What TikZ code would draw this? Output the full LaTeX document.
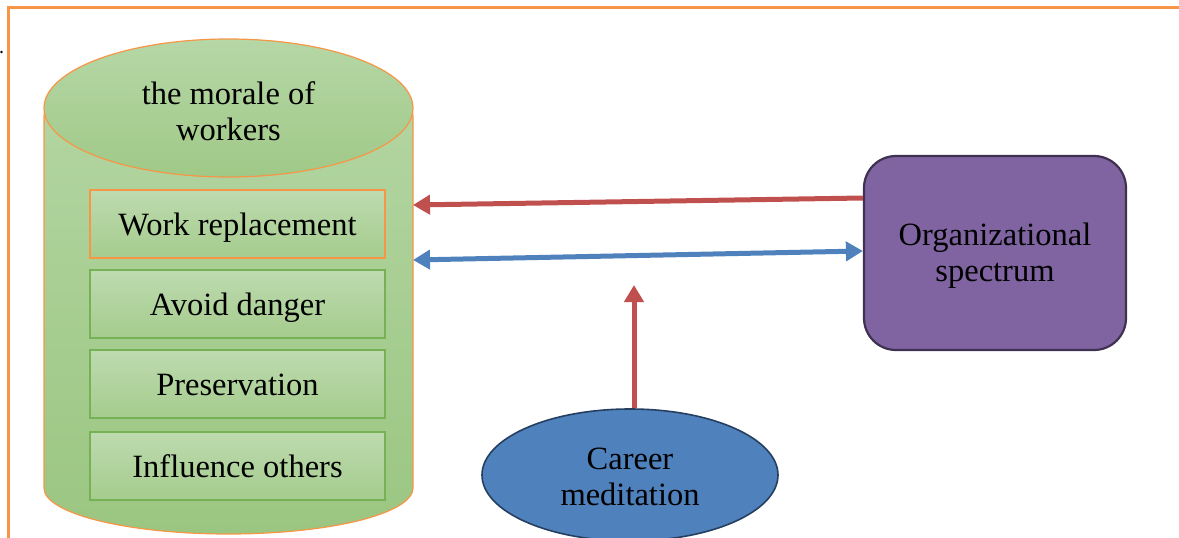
\documentclass[tikz,border=0pt]{standalone}
\usepackage{fontspec}
\setmainfont{Liberation Serif}
\usetikzlibrary{arrows.meta,shapes.geometric,calc}
\definecolor{frameorange}{HTML}{F79646}
\definecolor{greenlight}{HTML}{B6D7A6}
\definecolor{greendark}{HTML}{9BC681}
\definecolor{boxgreen}{HTML}{77B155}
\definecolor{arrowred}{HTML}{C0504D}
\definecolor{arrowblue}{HTML}{4F81BD}
\definecolor{purplefill}{HTML}{8064A2}
\definecolor{purpleline}{HTML}{3F3151}
\definecolor{bluefill}{HTML}{4F81BD}
\definecolor{blueline}{HTML}{243F60}
\tikzset{
  txt/.style={font=\fontsize{32.5}{36}\selectfont, text=black, align=center},
  cylbody/.style={draw=frameorange, line width=1.2pt, top color=greenlight, bottom color=greendark},
  innerbox/.style={txt, draw=boxgreen, line width=1.2pt, top color=greenlight!90!white, bottom color=greendark!90!white,
    minimum width=295pt, minimum height=68pt, inner sep=0pt, text depth=0pt, text height=22pt},
  bigarrow/.style={line width=5pt, -{Triangle[length=17pt,width=19pt]}},
}
\begin{document}
\begin{tikzpicture}[x=1pt,y=-1pt]
\useasboundingbox (0,0) rectangle (1179,538);
% frame
\draw[frameorange, line width=2.6pt] (8.5,538) -- (8.5,7.5) -- (1179,7.5);
\fill[black] (1.5,52) circle (1.3pt);
% cylinder body
\path[cylbody] (44,117) -- (44,488)
  arc[start angle=180, end angle=360, x radius=184.5pt, y radius=46pt]
  -- (413,117)
  arc[start angle=0, end angle=180, x radius=184.5pt, y radius=69pt] -- cycle;
% top ellipse
\node[ellipse, draw=frameorange, line width=1.2pt, top color=greenlight, bottom color=greendark!95!white,
  minimum width=369pt, minimum height=138pt, inner sep=0pt, txt] (morale) at (228.5,108) {};
\node[txt] (moraletext) at (228.5,111) {the morale of\\workers};
% inner boxes
\node[innerbox, draw=frameorange] (work) at (237.5,224) {Work replacement};
\node[innerbox] (avoid) at (237.5,304) {Avoid danger};
\node[innerbox] (pres) at (237.5,384) {Preservation};
\node[innerbox] (infl) at (237.5,466) {Influence others};
% organizational spectrum
\node[draw=purpleline, line width=2.2pt, fill=purplefill, rounded corners=32pt,
  minimum width=262pt, minimum height=194pt] (org) at (995,253) {};
\node[txt] (orgtext) at (995,256) {Organizational\\spectrum};
% career meditation
\node[ellipse, draw=blueline, line width=1.6pt, fill=bluefill, minimum width=296pt, minimum height=132pt,
  inner sep=0pt] (career) at (630,475) {};
\node[txt] (careertext) at (630,477) {Career\\meditation};
% connector end points
\coordinate (redS) at ($(org.west)+(0,-55)$);
\coordinate (redE) at (413,205);
\coordinate (blueL) at (413,260);
\coordinate (blueR) at ($(org.west)+(0,-2)$);
\coordinate (upS) at ($(career.north)+(4,0)$);
\coordinate (upE) at (634,285);
% arrows
\draw[bigarrow, arrowred] (redS) -- (redE);
\draw[bigarrow, arrowblue, {Triangle[length=17pt,width=19pt]}-{Triangle[length=17pt,width=19pt]}] (blueL) -- (blueR);
\draw[bigarrow, arrowred] (upS) -- (upE);
\end{tikzpicture}
\end{document}
